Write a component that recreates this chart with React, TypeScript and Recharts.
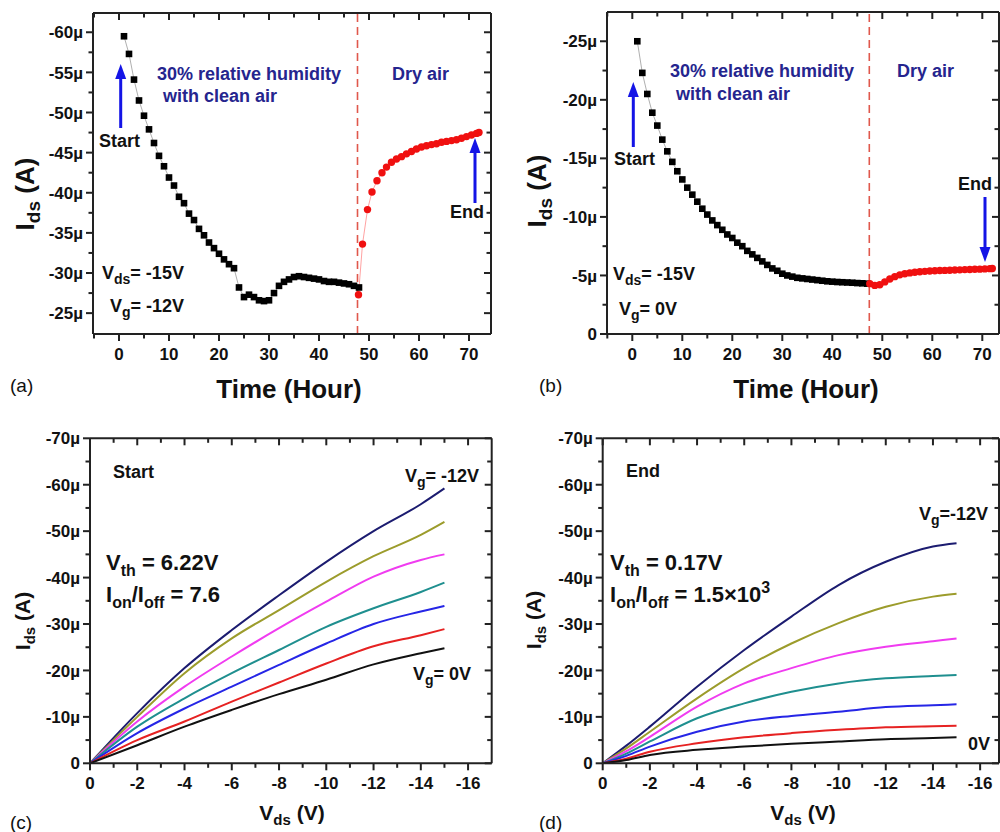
import React from "react";
import { LineChart, Line, XAxis, YAxis, ReferenceLine } from "recharts";

const FONT = '"Liberation Sans", Arial, Helvetica, sans-serif';
const AXIS = "#222";
const NAVY_TEXT = "#25258e";
const ARROW = "#1414e6";

// (a) Vg = -12 V, Ids (µA) vs time (h)
const humidHoursA = [1, 2, 3, 4, 5, 6, 7, 8, 9, 10, 11, 12, 13, 14, 15, 16, 17, 18, 19, 20, 21, 22, 23, 24, 25, 26, 27, 28, 29, 30, 31, 32, 33, 34, 35, 36, 37, 38, 39, 40, 41, 42, 43, 44, 45, 46, 47, 48];
const humidIdsA = [-59.5, -57.3, -54.1, -51.5, -49.6, -47.9, -46.2, -44.6, -43.3, -41.9, -40.9, -39.5, -38.7, -37.4, -36.6, -35.5, -34.7, -33.8, -33.1, -32.4, -31.7, -31.1, -30.6, -28.2, -27.0, -27.3, -27.0, -26.6, -26.5, -26.6, -27.5, -28.4, -28.9, -29.2, -29.5, -29.6, -29.5, -29.4, -29.3, -29.2, -29.0, -28.9, -28.9, -28.8, -28.7, -28.6, -28.4, -28.2];
const dryHoursA = [47.9, 48.7, 49.7, 50.6, 51.6, 52.6, 53.5, 54.5, 55.5, 56.5, 57.5, 58.5, 59.5, 60.5, 61.5, 62.5, 63.5, 64.5, 65.5, 66.5, 67.5, 68.5, 69.5, 70.5, 71.5, 72];
const dryIdsA = [-27.3, -33.6, -37.9, -40.1, -41.5, -42.5, -43.2, -43.8, -44.2, -44.5, -44.85, -45.15, -45.45, -45.7, -45.85, -46.0, -46.1, -46.3, -46.4, -46.5, -46.6, -46.8, -47.0, -47.2, -47.4, -47.5];

// (b) Vg = 0 V
const humidHoursB = [1, 2, 3, 4, 5, 6, 7, 8, 9, 10, 11, 12, 13, 14, 15, 16, 17, 18, 19, 20, 21, 22, 23, 24, 25, 26, 27, 28, 29, 30, 31, 32, 33, 34, 35, 36, 37, 38, 39, 40, 41, 42, 43, 44, 45, 46, 47];
const humidIdsB = [-25.0, -22.3, -20.5, -18.9, -17.8, -16.6, -15.6, -14.7, -13.9, -13.2, -12.5, -11.9, -11.3, -10.7, -10.2, -9.7, -9.3, -8.9, -8.5, -8.2, -7.8, -7.5, -7.1, -6.8, -6.5, -6.2, -5.9, -5.6, -5.4, -5.15, -5.0, -4.9, -4.8, -4.75, -4.7, -4.65, -4.6, -4.55, -4.5, -4.47, -4.44, -4.42, -4.4, -4.38, -4.35, -4.33, -4.3];
const dryHoursB = [47.5, 48.5, 49.5, 50.5, 51.5, 52.5, 53.5, 54.5, 55.5, 56.5, 57.5, 58.5, 59.5, 60.5, 61.5, 62.5, 63.5, 64.5, 65.5, 66.5, 67.5, 68.5, 69.5, 70.5, 71.5, 72];
const dryIdsB = [-4.3, -4.15, -4.2, -4.45, -4.7, -4.9, -5.05, -5.15, -5.22, -5.28, -5.32, -5.35, -5.38, -5.4, -5.42, -5.43, -5.45, -5.47, -5.48, -5.5, -5.51, -5.53, -5.54, -5.56, -5.58, -5.6];

// (c)/(d) output curves, Vg = -12 ... 0 V
const gateVoltages = ["-12V", "-10V", "-8V", "-6V", "-4V", "-2V", "0V"];
const curveColors = ["#1c1c70", "#9c9c2c", "#f03cf0", "#1f8f8f", "#2626e6", "#e62222", "#111111"];

const vdsStart = [0, -2, -4, -6, -8, -10, -12, -14, -15];
const idsStart = [
  [0, -10.8, -20.5, -28.7, -36.2, -43.4, -50.0, -55.8, -59.2],
  [0, -10.0, -19.4, -26.9, -33.0, -39.1, -44.6, -49.2, -52.0],
  [0, -9.0, -16.5, -23.0, -29.1, -34.8, -40.2, -43.8, -45.0],
  [0, -7.9, -14.0, -19.4, -24.4, -29.4, -33.4, -36.9, -38.9],
  [0, -6.5, -11.8, -16.5, -21.2, -25.8, -30.0, -32.7, -33.9],
  [0, -5.0, -9.0, -13.3, -17.4, -21.5, -25.2, -27.6, -28.9],
  [0, -3.9, -7.9, -11.5, -14.9, -18.0, -21.3, -23.7, -24.8],
];

const vdsEnd = [0, -1, -2, -4, -6, -8, -10, -12, -14, -15];
const idsEnd = [
  [0, -3.8, -7.9, -16.5, -24.4, -31.6, -38.4, -43.4, -46.7, -47.4],
  [0, -3.2, -6.8, -14.0, -20.5, -25.8, -30.2, -33.7, -35.9, -36.5],
  [0, -2.6, -5.7, -12.2, -17.2, -20.5, -23.3, -25.1, -26.3, -26.9],
  [0, -2.1, -4.7, -9.7, -12.9, -15.4, -17.2, -18.3, -18.8, -19.0],
  [0, -1.6, -3.6, -6.8, -9.0, -10.2, -11.1, -12.1, -12.5, -12.7],
  [0, -1.0, -2.5, -4.3, -5.6, -6.5, -7.2, -7.75, -8.0, -8.1],
  [0, -0.7, -1.8, -2.9, -3.6, -4.2, -4.7, -5.2, -5.45, -5.6],
];

const range = (a: number, b: number, s: number) => {
  const out: number[] = [];
  for (let v = a; v <= b + 1e-9; v += s) out.push(+v.toFixed(4));
  return out;
};

// tick positions (majors get a label, the rest are minor marks)
const hourTicks = range(-5, 70, 5);
const idsTicksA = range(-60, -25, 2.5);
const idsTicksB = range(-25, 0, 2.5);
const vdsTicks = range(-16, 0, 1);
const idsTicksIV = range(-70, 0, 5);

const domainA = { x: [-5.2, 74.4] as [number, number], y: [-62.4, -22.4] as [number, number] };
const domainB = { x: [-5.06, 73.34] as [number, number], y: [-27.5, 0] as [number, number] };
const domainC = { x: [-17, 0] as [number, number], y: [-70, 0] as [number, number] };
const domainD = { x: [-16.8, 0] as [number, number], y: [-70, 0] as [number, number] };

const pairs = (xs: number[], ys: number[]) => xs.map((x, i) => ({ x, y: ys[i] }));
const isMajor = (v: number, step: number) => Math.abs(v / step - Math.round(v / step)) < 1e-6;

const tickText = { fontFamily: FONT, fontWeight: 700, fontSize: 17, fill: "#111" };
const axisLine = { stroke: AXIS, strokeWidth: 2 };

const muFmt = (v: number) => (v === 0 ? "0" : `${v}µ`);
const numFmt = (v: number) => `${v}`;

// tick mark + label; tickSize/tickMargin are 0 so x/y sit on the axis line
function makeTick(side: "left" | "bottom", step: number, fmt: (v: number) => string) {
  return (props: any) => {
    const x = Number(props.x);
    const y = Number(props.y);
    const v = Number(props.payload.value);
    const major = isMajor(v, step);
    const len = major ? 7 : 4.5;
    if (side === "left")
      return (
        <g>
          <rect x={x - len} y={y - 1} width={len} height={2} fill={AXIS} />
          {major && (
            <text x={x - 10} y={y} dy="0.36em" textAnchor="end" style={tickText}>
              {fmt(v)}
            </text>
          )}
        </g>
      );
    return (
      <g>
        <rect x={x - 1} y={y} width={2} height={len} fill={AXIS} />
        {major && (
          <text x={x} y={y + 26} textAnchor="middle" style={tickText}>
            {fmt(v)}
          </text>
        )}
      </g>
    );
  };
}

// built once so the axes get stable props
const hourTick = makeTick("bottom", 10, numFmt);
const vdsTick = makeTick("bottom", 2, numFmt);
const idsTick5 = makeTick("left", 5, muFmt);
const idsTick10 = makeTick("left", 10, muFmt);

// top and right edges of the box, with short inward ticks, on the chart's own scales
function mirrorEdges(
  top: number,
  right: number,
  xTicks: number[],
  yTicks: number[],
  xStep: number,
  yStep: number,
  pxX: number,
  pxY: number
) {
  const out: React.ReactNode[] = [
    <ReferenceLine key="top" y={top} {...axisLine} />,
    <ReferenceLine key="right" x={right} {...axisLine} />,
  ];
  xTicks.forEach((t) => {
    const len = (isMajor(t, xStep) ? 7 : 4.5) / pxY;
    out.push(
      <ReferenceLine
        key={`tx${t}`}
        segment={[
          { x: t, y: top },
          { x: t, y: top + len },
        ]}
        stroke={AXIS}
        strokeWidth={2}
      />
    );
  });
  yTicks.forEach((t) => {
    const len = (isMajor(t, yStep) ? 7 : 4.5) / pxX;
    out.push(
      <ReferenceLine
        key={`ty${t}`}
        segment={[
          { x: right, y: t },
          { x: right - len, y: t },
        ]}
        stroke={AXIS}
        strokeWidth={2}
      />
    );
  });
  return out;
}

const Square = (props: any) => {
  const { cx, cy } = props;
  if (cx == null || cy == null) return null;
  return <rect x={cx - 3.3} y={cy - 3.3} width={6.6} height={6.6} fill="#000" />;
};

const RedDot = (props: any) => {
  const { cx, cy } = props;
  if (cx == null || cy == null) return null;
  return <circle cx={cx} cy={cy} r={3.7} fill="#f01010" />;
};

type TimeProps = {
  left: number;
  yAxisWidth: number;
  marginRight: number;
  marginTop: number;
  domain: { x: [number, number]; y: [number, number] };
  yTicks: number[];
  humid: { x: number; y: number }[];
  dry: { x: number; y: number }[];
  boundary: number;
};

function TimePanel(p: TimeProps) {
  const plotW = 500 - p.yAxisWidth - p.marginRight;
  const plotH = 400 - p.marginTop - 66;
  const pxX = plotW / (p.domain.x[1] - p.domain.x[0]);
  const pxY = plotH / (p.domain.y[1] - p.domain.y[0]);
  return (
    <div style={{ position: "absolute", left: p.left, top: 0, zIndex: 2 }}>
      <LineChart
        width={500}
        height={400}
        margin={{ top: p.marginTop, right: p.marginRight, bottom: 36, left: 0 }}
      >
        <XAxis
          type="number"
          dataKey="x"
          domain={p.domain.x}
          allowDataOverflow
          ticks={hourTicks}
          interval={0}
          height={30}
          tickSize={0}
          tickMargin={0}
          tickLine={false}
          axisLine={axisLine}
          tick={hourTick}
        />
        <YAxis
          type="number"
          dataKey="y"
          domain={p.domain.y}
          reversed
          allowDataOverflow
          ticks={p.yTicks}
          interval={0}
          width={p.yAxisWidth}
          tickSize={0}
          tickMargin={0}
          tickLine={false}
          axisLine={axisLine}
          tick={idsTick5}
        />
        {mirrorEdges(p.domain.y[0], p.domain.x[1], hourTicks, p.yTicks, 10, 5, pxX, pxY)}
        <ReferenceLine x={p.boundary} stroke="#e0584c" strokeWidth={1.6} strokeDasharray="8 5" />
        <Line
          data={p.humid}
          dataKey="y"
          stroke="#9a9a9a"
          strokeWidth={0.8}
          dot={<Square />}
          isAnimationActive={false}
        />
        <Line
          data={p.dry}
          dataKey="y"
          stroke="#ff8a8a"
          strokeWidth={0.8}
          dot={<RedDot />}
          isAnimationActive={false}
        />
      </LineChart>
    </div>
  );
}

type IVProps = {
  left: number;
  yAxisWidth: number;
  marginRight: number;
  domain: { x: [number, number]; y: [number, number] };
  vds: number[];
  curves: number[][];
};

function IVPanel(p: IVProps) {
  const rows = p.vds.map((v, k) => {
    const r: any = { x: v };
    p.curves.forEach((c, j) => (r[`g${j}`] = c[k]));
    return r;
  });
  const plotW = 500 - p.yAxisWidth - p.marginRight;
  const pxX = plotW / (p.domain.x[1] - p.domain.x[0]);
  const pxY = 325 / 70;
  return (
    <div style={{ position: "absolute", left: p.left, top: 420, zIndex: 2 }}>
      <LineChart
        width={500}
        height={412}
        data={rows}
        margin={{ top: 18.3, right: p.marginRight, bottom: 38.7, left: 0 }}
      >
        <XAxis
          type="number"
          dataKey="x"
          domain={p.domain.x}
          reversed
          allowDataOverflow
          ticks={vdsTicks}
          interval={0}
          height={30}
          tickSize={0}
          tickMargin={0}
          tickLine={false}
          axisLine={axisLine}
          tick={vdsTick}
        />
        <YAxis
          type="number"
          domain={p.domain.y}
          reversed
          allowDataOverflow
          ticks={idsTicksIV}
          interval={0}
          width={p.yAxisWidth}
          tickSize={0}
          tickMargin={0}
          tickLine={false}
          axisLine={axisLine}
          tick={idsTick10}
        />
        {/* x axis is reversed, so the right edge is the most negative Vds */}
        {mirrorEdges(p.domain.y[0], p.domain.x[0], vdsTicks, idsTicksIV, 2, 10, -pxX, pxY)}
        {p.curves.map((_, j) => (
          <Line
            key={gateVoltages[j]}
            dataKey={`g${j}`}
            type="monotone"
            stroke={curveColors[j]}
            strokeWidth={2}
            dot={false}
            isAnimationActive={false}
          />
        ))}
      </LineChart>
    </div>
  );
}

function Arrow({ x, from, to }: { x: number; from: number; to: number }) {
  const dir = to < from ? -1 : 1;
  const headLen = 15;
  const baseY = to - dir * headLen;
  return (
    <g fill={ARROW}>
      <rect x={x - 1.5} y={Math.min(from, baseY)} width={3} height={Math.abs(baseY - from)} />
      <polygon points={`${x - 5.5},${baseY} ${x + 5.5},${baseY} ${x},${to}`} />
    </g>
  );
}

function Overlay() {
  const ann = { fontFamily: FONT, fontWeight: 700, fontSize: 18, fill: NAVY_TEXT };
  const blk = { fontFamily: FONT, fontWeight: 700, fontSize: 18, fill: "#111" };
  const big = { fontFamily: FONT, fontWeight: 700, fontSize: 22, fill: "#111" };
  const title = { fontFamily: FONT, fontWeight: 700, fontSize: 26, fill: "#111" };
  const title2 = { fontFamily: FONT, fontWeight: 700, fontSize: 21, fill: "#111" };
  const tag = { fontFamily: FONT, fontWeight: 400, fontSize: 19, fill: "#111" };
  const sub = (t: string, size: number, d: number) => (
    <tspan fontSize={size} dy={d}>
      {t}
    </tspan>
  );
  return (
    <svg
      width={1000}
      height={832}
      style={{ position: "absolute", left: 0, top: 0, zIndex: 1, pointerEvents: "none" }}
    >
      {/* panel (a) */}
      <text x={157} y={80} style={ann}>30% relative humidity</text>
      <text x={163} y={102} style={ann}>with clean air</text>
      <text x={392} y={80} style={ann}>Dry air</text>
      <text x={99} y={147} style={blk}>Start</text>
      <Arrow x={120.7} from={128} to={64} />
      <text x={450} y={218} style={blk}>End</text>
      <Arrow x={475} from={203} to={138} />
      <text x={102} y={279} style={blk}>
        V{sub("ds", 14, 5)}
        <tspan dy={-5}>= -15V</tspan>
      </text>
      <text x={110} y={312} style={blk}>
        V{sub("g", 14, 5)}
        <tspan dy={-5}>= -12V</tspan>
      </text>
      <text x={289} y={398} textAnchor="middle" style={title}>Time (Hour)</text>
      <text transform="translate(34 194) rotate(-90)" textAnchor="middle" style={title}>
        I{sub("ds", 19, 6)}
        <tspan dy={-6}> (A)</tspan>
      </text>
      <text x={10} y={392} style={tag}>(a)</text>

      {/* panel (b) */}
      <text x={670} y={77} style={ann}>30% relative humidity</text>
      <text x={676} y={100} style={ann}>with clean air</text>
      <text x={897} y={77} style={ann}>Dry air</text>
      <text x={614} y={165} style={blk}>Start</text>
      <Arrow x={633.3} from={147} to={82} />
      <text x={958} y={190} style={blk}>End</text>
      <Arrow x={985} from={197} to={262} />
      <text x={613} y={280} style={blk}>
        V{sub("ds", 14, 5)}
        <tspan dy={-5}>= -15V</tspan>
      </text>
      <text x={619} y={315} style={blk}>
        V{sub("g", 14, 5)}
        <tspan dy={-5}>= 0V</tspan>
      </text>
      <text x={806} y={398} textAnchor="middle" style={title}>Time (Hour)</text>
      <text transform="translate(546 191) rotate(-90)" textAnchor="middle" style={title}>
        I{sub("ds", 19, 6)}
        <tspan dy={-6}> (A)</tspan>
      </text>
      <text x={539} y={392} style={tag}>(b)</text>

      {/* panel (c) */}
      <text x={113} y={478} style={blk}>Start</text>
      <text x={106} y={570} style={big}>
        V{sub("th", 16, 6)}
        <tspan dy={-6}> = 6.22V</tspan>
      </text>
      <text x={106} y={602} style={big}>
        I{sub("on", 16, 6)}
        <tspan dy={-6}>/I</tspan>
        {sub("off", 16, 6)}
        <tspan dy={-6}> = 7.6</tspan>
      </text>
      <text x={405} y={482} style={blk}>
        V{sub("g", 14, 5)}
        <tspan dy={-5}>= -12V</tspan>
      </text>
      <text x={413} y={680} style={blk}>
        V{sub("g", 14, 5)}
        <tspan dy={-5}>= 0V</tspan>
      </text>
      <text x={292} y={820} textAnchor="middle" style={title2}>
        V{sub("ds", 15, 5)}
        <tspan dy={-5}> (V)</tspan>
      </text>
      <text transform="translate(30 621) rotate(-90)" textAnchor="middle" style={title2}>
        I{sub("ds", 15, 5)}
        <tspan dy={-5}> (A)</tspan>
      </text>
      <text x={10} y={829} style={tag}>(c)</text>

      {/* panel (d) */}
      <text x={626} y={477} style={blk}>End</text>
      <text x={610} y={570} style={big}>
        V{sub("th", 16, 6)}
        <tspan dy={-6}> = 0.17V</tspan>
      </text>
      <text x={610} y={602} style={big}>
        I{sub("on", 16, 6)}
        <tspan dy={-6}>/I</tspan>
        {sub("off", 16, 6)}
        <tspan dy={-6}> = 1.5×10</tspan>
        <tspan fontSize={16} dy={-9}>3</tspan>
      </text>
      <text x={919} y={520} style={blk}>
        V{sub("g", 14, 5)}
        <tspan dy={-5}>=-12V</tspan>
      </text>
      <text x={968} y={750} style={blk}>0V</text>
      <text x={803} y={820} textAnchor="middle" style={title2}>
        V{sub("ds", 15, 5)}
        <tspan dy={-5}> (V)</tspan>
      </text>
      <text transform="translate(541 620) rotate(-90)" textAnchor="middle" style={title2}>
        I{sub("ds", 15, 5)}
        <tspan dy={-5}> (A)</tspan>
      </text>
      <text x={539} y={829} style={tag}>(d)</text>
    </svg>
  );
}

export default function App() {
  return (
    <div
      style={{
        position: "absolute",
        left: 0,
        top: 0,
        width: 1000,
        height: 832,
        background: "#fff",
      }}
    >
      <Overlay />
      <TimePanel
        left={0}
        yAxisWidth={93}
        marginRight={9}
        marginTop={13}
        domain={domainA}
        yTicks={idsTicksA}
        humid={pairs(humidHoursA, humidIdsA)}
        dry={pairs(dryHoursA, dryIdsA)}
        boundary={47.7}
      />
      <TimePanel
        left={500}
        yAxisWidth={107}
        marginRight={1}
        marginTop={12}
        domain={domainB}
        yTicks={idsTicksB}
        humid={pairs(humidHoursB, humidIdsB)}
        dry={pairs(dryHoursB, dryIdsB)}
        boundary={47.4}
      />
      <IVPanel
        left={0}
        yAxisWidth={90}
        marginRight={8.3}
        domain={domainC}
        vds={vdsStart}
        curves={idsStart}
      />
      <IVPanel
        left={500}
        yAxisWidth={102.7}
        marginRight={1}
        domain={domainD}
        vds={vdsEnd}
        curves={idsEnd}
      />
    </div>
  );
}
